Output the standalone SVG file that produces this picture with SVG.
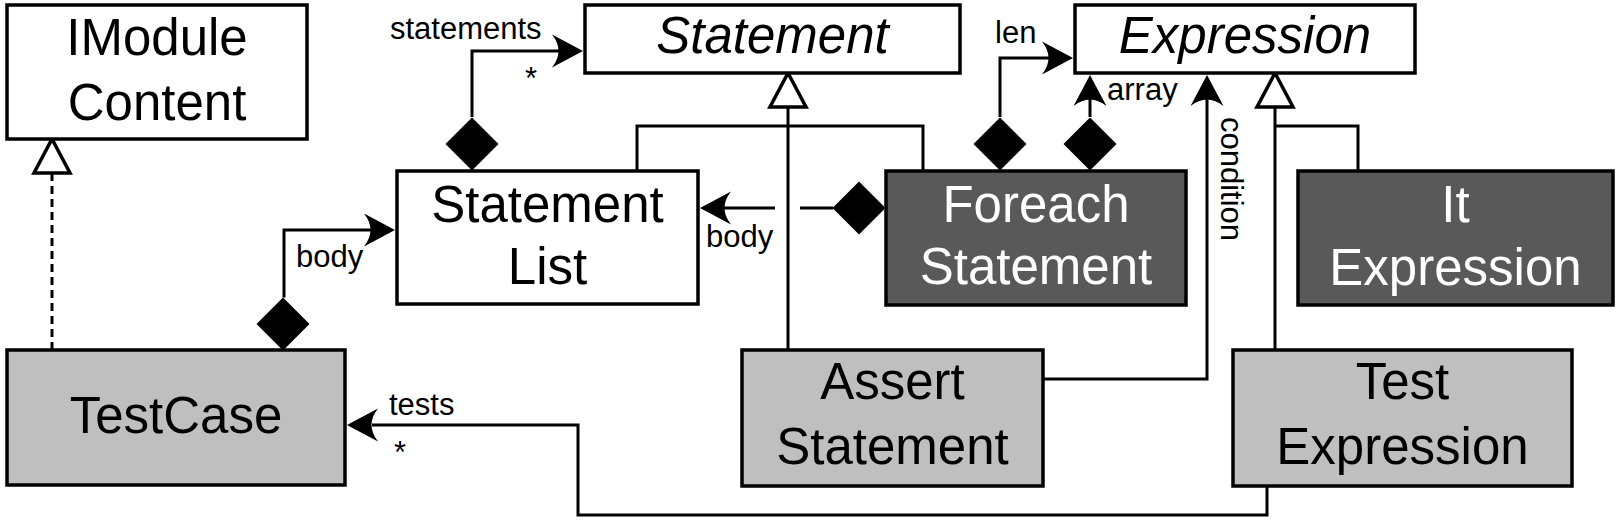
<svg xmlns="http://www.w3.org/2000/svg" xmlns:xlink="http://www.w3.org/1999/xlink" width="1619" height="522" viewBox="0 0 1619 522">
<style>
.box{stroke:#000;stroke-width:3.5}
.w{fill:#fff}
.l{fill:#bfbfbf}
.d{fill:#595959}
.t{font-family:"Liberation Sans",Arial,sans-serif;font-size:51px;text-anchor:middle;fill:#000}
.ti{font-style:italic}
.tw{fill:#fff}
.lbl{font-family:"Liberation Sans",Arial,sans-serif;font-size:31px;fill:#000}
.c{fill:none;stroke:#000;stroke-width:3}
.dash{stroke-dasharray:8 5}
.gen{fill:#fff;stroke:#000;stroke-width:3.5;stroke-linejoin:miter}
.fillb{fill:#000;stroke:none}
</style>
<defs>
<path id="ah" d="M0,0 L-31,-16.5 Q-18,0 -31,16.5 Z"/>
<path id="dm" d="M0,-26.5 L26.5,0 L0,26.5 L-26.5,0 Z"/>
<path id="gt" d="M0,0 L18,34 L-18,34 Z"/>
</defs>
<rect width="1619" height="522" fill="#fff"/>
<g id="connectors">
<path class="c dash" d="M52,173 V350"/>
<path class="c" d="M472,117 V51 H560"/>
<path class="c" d="M284,297.5 V230 H372"/>
<path class="c" d="M833,208 H800 M775,208 H724"/>
<path class="c" d="M1000,117 V58 H1050"/>
<path class="c" d="M1090,117 V97"/>
<path class="c" d="M1043,379 H1207 V97"/>
<path class="c" d="M1267,486 V515 H578 V425 H372"/>
<path class="c" d="M788,107 V350 M637,171 V126 H923 V171"/>
<path class="c" d="M1275,107 V350 M1275,126 H1358 V171"/>
<use xlink:href="#gt" class="gen" transform="translate(52,139)"/>
<use xlink:href="#gt" class="gen" transform="translate(788,73)"/>
<use xlink:href="#gt" class="gen" transform="translate(1275,73)"/>
<use xlink:href="#ah" class="fillb" transform="translate(583,51)"/>
<use xlink:href="#ah" class="fillb" transform="translate(1073,58)"/>
<use xlink:href="#ah" class="fillb" transform="translate(395,230)"/>
<use xlink:href="#ah" class="fillb" transform="translate(700,208) rotate(180)"/>
<use xlink:href="#ah" class="fillb" transform="translate(347,425) rotate(180)"/>
<use xlink:href="#ah" class="fillb" transform="translate(1090,75) rotate(-90)"/>
<use xlink:href="#ah" class="fillb" transform="translate(1207,75) rotate(-90)"/>
<use xlink:href="#dm" class="fillb" transform="translate(472,144)"/>
<use xlink:href="#dm" class="fillb" transform="translate(283,324)"/>
<use xlink:href="#dm" class="fillb" transform="translate(859,208)"/>
<use xlink:href="#dm" class="fillb" transform="translate(1000,144)"/>
<use xlink:href="#dm" class="fillb" transform="translate(1090,144)"/>
<text class="lbl" x="390" y="39">statements</text>
<text class="lbl" x="525" y="89">*</text>
<text class="lbl" x="296" y="267">body</text>
<text class="lbl" x="706" y="247">body</text>
<text class="lbl" x="995" y="43">len</text>
<text class="lbl" x="1107" y="100">array</text>
<text class="lbl" transform="translate(1221,117) rotate(90)">condition</text>
<text class="lbl" x="389" y="415">tests</text>
<text class="lbl" x="394" y="463">*</text>
</g>
<g id="imodulecontent">
<rect class="box w" x="7" y="5" width="300" height="134"/>
<text class="t" x="157" y="55">IModule</text>
<text class="t" x="157" y="120">Content</text>
</g>
<g id="statement">
<rect class="box w" x="585" y="5" width="375" height="68"/>
<text class="t ti" x="772.5" y="53">Statement</text>
</g>
<g id="expression">
<rect class="box w" x="1075" y="5" width="340" height="68"/>
<text class="t ti" x="1245" y="53">Expression</text>
</g>
<g id="statementlist">
<rect class="box w" x="397" y="171" width="301" height="133"/>
<text class="t" x="547.5" y="222">Statement</text>
<text class="t" x="547.5" y="284">List</text>
</g>
<g id="foreachstatement">
<rect class="box d" x="886" y="171" width="300" height="134"/>
<text class="t tw" x="1036" y="222">Foreach</text>
<text class="t tw" x="1036" y="284">Statement</text>
</g>
<g id="itexpression">
<rect class="box d" x="1298" y="171" width="315" height="134"/>
<text class="t tw" x="1455.5" y="222">It</text>
<text class="t tw" x="1455.5" y="285">Expression</text>
</g>
<g id="testcase">
<rect class="box l" x="7" y="350" width="338" height="135"/>
<text class="t" x="176" y="433">TestCase</text>
</g>
<g id="assertstatement">
<rect class="box l" x="742" y="350" width="301" height="136"/>
<text class="t" x="892.5" y="399">Assert</text>
<text class="t" x="892.5" y="464">Statement</text>
</g>
<g id="testexpression">
<rect class="box l" x="1233" y="350" width="339" height="136"/>
<text class="t" x="1402.5" y="399">Test</text>
<text class="t" x="1402.5" y="464">Expression</text>
</g>
</svg>
